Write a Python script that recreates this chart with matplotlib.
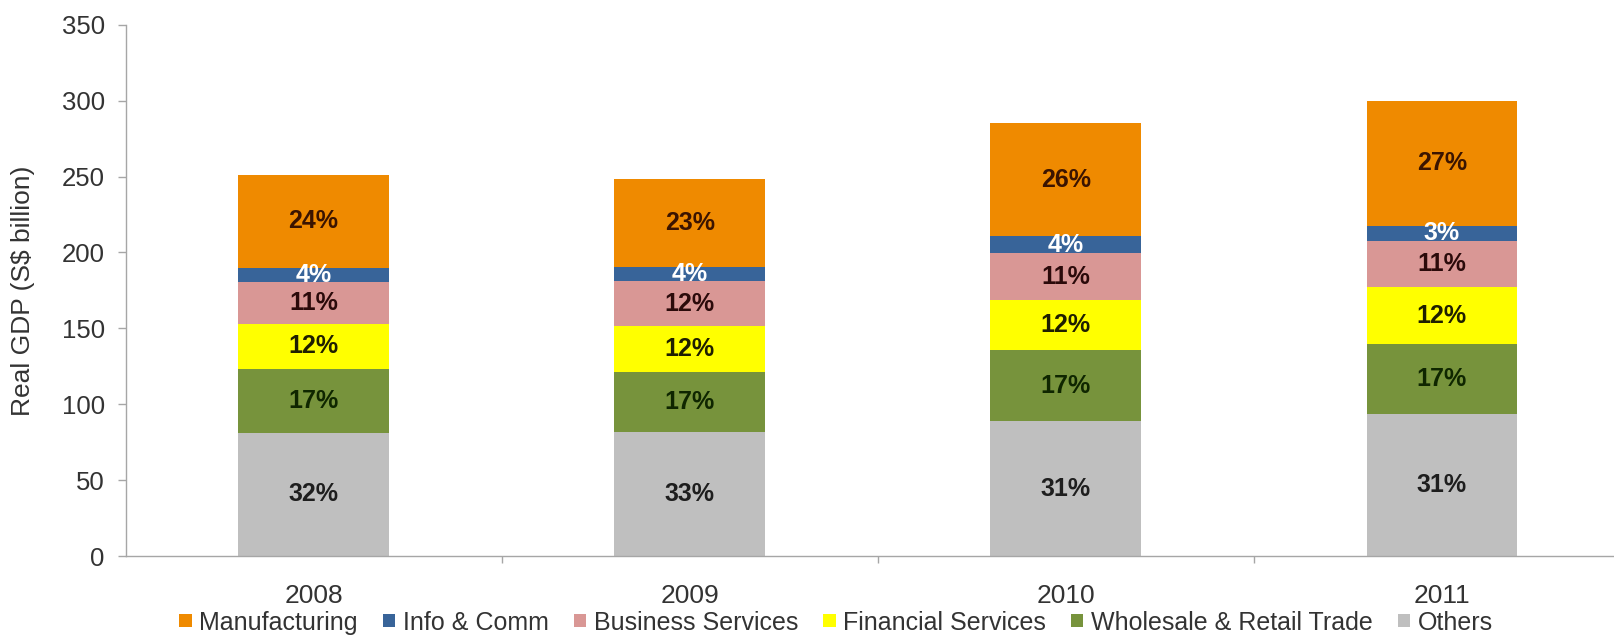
import matplotlib
matplotlib.use('Agg')
import matplotlib.pyplot as plt
import numpy as np

plt.rcParams['font.family'] = ['Liberation Sans', 'DejaVu Sans']

# ---- data (S$ billion) ----
years = ['2008', '2009', '2010', '2011']
others = [81.2, 81.7, 88.7, 93.3]
wholesale = [42.2, 39.5, 46.8, 46.1]
financial = [29.6, 30.3, 32.9, 37.6]
business = [27.5, 29.5, 31.4, 30.5]
info_comm = [9.4, 9.4, 10.8, 10.1]
manufacturing = [61.3, 58.1, 74.8, 82.1]

# percentage labels shown on the segments
others_pct = ['32%', '33%', '31%', '31%']
wholesale_pct = ['17%', '17%', '17%', '17%']
financial_pct = ['12%', '12%', '12%', '12%']
business_pct = ['11%', '12%', '11%', '11%']
info_pct = ['4%', '4%', '4%', '3%']
manufacturing_pct = ['24%', '23%', '26%', '27%']

series = [
    ('Others', others, '#BFBFBF', others_pct, '#1E1E1E'),
    ('Wholesale & Retail Trade', wholesale, '#77933C', wholesale_pct, '#0F2600'),
    ('Financial Services', financial, '#FFFF00', financial_pct, '#1F1F00'),
    ('Business Services', business, '#D99795', business_pct, '#2B0A0A'),
    ('Info & Comm', info_comm, '#386499', info_pct, '#FFFFFF'),
    ('Manufacturing', manufacturing, '#EF8A00', manufacturing_pct, '#3B1400'),
]

fig = plt.figure(figsize=(16.14, 6.35), dpi=100)
ax = fig.add_axes([0.0778, 0.1244, 0.9222, 0.8367])

x = np.arange(len(years))
bottom = np.zeros(len(years))
handles = []
for name, vals, col, labs, tcol in series:
    vals = np.array(vals)
    h = ax.bar(x, vals, 0.4, bottom=bottom, color=col, label=name, linewidth=0)
    handles.append(h)
    for xi, b, v, l in zip(x, bottom, vals, labs):
        ax.text(xi, b + v / 2, l, ha='center', va='center', fontsize=18,
                fontweight='bold', color=tcol)
    bottom = bottom + vals

ax.set_xlim(-0.5, 3.458)
ax.set_ylim(0, 350)
ax.set_yticks(range(0, 351, 50))
ax.set_xticks(x)
ax.set_xticklabels(years)
ax.set_xticks([0.5, 1.5, 2.5], minor=True)

for s in ['top', 'right']:
    ax.spines[s].set_visible(False)
for s in ['left', 'bottom']:
    ax.spines[s].set_color('#A6A6A6')
    ax.spines[s].set_linewidth(1.0)

ax.tick_params(axis='y', direction='out', length=6, width=1, color='#A6A6A6',
               labelsize=18.5, labelcolor='#333333', pad=9)
ax.tick_params(axis='x', which='major', length=0, labelsize=19,
               labelcolor='#333333', pad=20)
ax.tick_params(axis='x', which='minor', direction='out', length=5, width=1,
               color='#A6A6A6')

ax.set_ylabel('Real GDP (S$ billion)', fontsize=19, color='#333333')
ax.yaxis.set_label_coords(-0.061, 0.5)

leg = fig.legend(handles[::-1], [s[0] for s in series][::-1], loc='center',
                 bbox_to_anchor=(0.518, 0.0195), ncol=6, frameon=False,
                 fontsize=18, handlelength=0.5, handleheight=0.4,
                 handletextpad=0.3, columnspacing=1.0, borderpad=0)
for t in leg.get_texts():
    t.set_color('#333333')

fig.savefig('out.png', dpi=100)
